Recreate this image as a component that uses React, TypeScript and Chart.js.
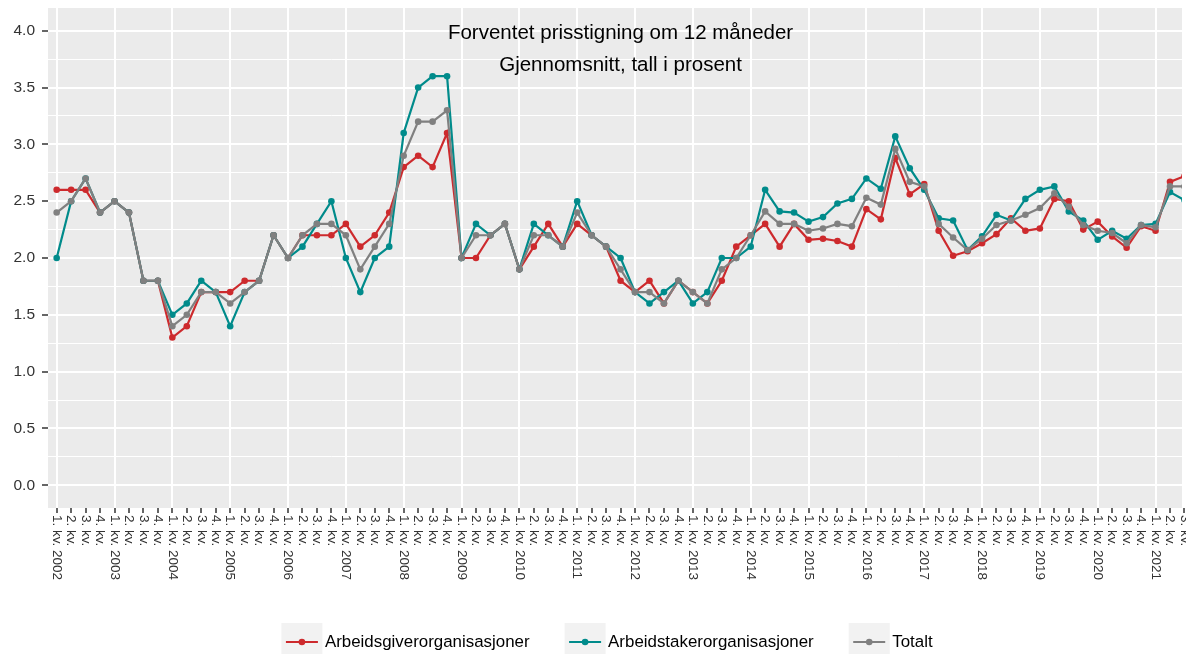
import React, { useEffect, useRef } from 'react';
import { Chart, registerables } from 'chart.js';

Chart.register(...registerables);

const FONT = '"Liberation Sans", Arial, Helvetica, sans-serif';

// ---- categories ----
const years = [2002, 2003, 2004, 2005, 2006, 2007, 2008, 2009, 2010, 2011, 2012, 2013, 2014, 2015, 2016, 2017, 2018, 2019, 2020, 2021];
const quarterNames = ['1. kv.', '2. kv.', '3. kv.', '4. kv.'];
const pointCount = 79; // 1. kv. 2002 .. 3. kv. 2021
const categories = years
  .flatMap((y) => quarterNames.map((q, k) => (k === 0 ? `${q} ${y}` : q)))
  .slice(0, pointCount);

// ---- series values (percent) ----
const arbeidsgiver = [
  2.6, 2.6, 2.6, 2.4,
  2.5, 2.4, 1.8, 1.8,
  1.3, 1.4, 1.7, 1.7,
  1.7, 1.8, 1.8, 2.2,
  2.0, 2.2, 2.2, 2.2,
  2.3, 2.1, 2.2, 2.4,
  2.8, 2.9, 2.8, 3.1,
  2.0, 2.0, 2.2, 2.3,
  1.9, 2.1, 2.3, 2.1,
  2.3, 2.2, 2.1, 1.8,
  1.7, 1.8, 1.6, 1.8,
  1.7, 1.6, 1.8, 2.1,
  2.2, 2.3, 2.1, 2.3,
  2.16, 2.17, 2.15, 2.10,
  2.43, 2.34, 2.88, 2.56,
  2.65, 2.24, 2.02, 2.06,
  2.13, 2.21, 2.35, 2.24,
  2.26, 2.52, 2.50, 2.25,
  2.32, 2.19, 2.09, 2.28,
  2.24, 2.67, 2.72,
];

const arbeidstaker = [
  2.0, 2.5, 2.7, 2.4,
  2.5, 2.4, 1.8, 1.8,
  1.5, 1.6, 1.8, 1.7,
  1.4, 1.7, 1.8, 2.2,
  2.0, 2.1, 2.3, 2.5,
  2.0, 1.7, 2.0, 2.1,
  3.1, 3.5, 3.6, 3.6,
  2.0, 2.3, 2.2, 2.3,
  1.9, 2.3, 2.2, 2.1,
  2.5, 2.2, 2.1, 2.0,
  1.7, 1.6, 1.7, 1.8,
  1.6, 1.7, 2.0, 2.0,
  2.1, 2.6, 2.41, 2.40,
  2.32, 2.36, 2.48, 2.52,
  2.70, 2.61, 3.07, 2.79,
  2.60, 2.35, 2.33, 2.07,
  2.19, 2.38, 2.33, 2.52,
  2.60, 2.63, 2.41, 2.33,
  2.16, 2.24, 2.17, 2.29,
  2.30, 2.58, 2.51,
];

const totalt = [
  2.4, 2.5, 2.7, 2.4,
  2.5, 2.4, 1.8, 1.8,
  1.4, 1.5, 1.7, 1.7,
  1.6, 1.7, 1.8, 2.2,
  2.0, 2.2, 2.3, 2.3,
  2.2, 1.9, 2.1, 2.3,
  2.9, 3.2, 3.2, 3.3,
  2.0, 2.2, 2.2, 2.3,
  1.9, 2.2, 2.2, 2.1,
  2.4, 2.2, 2.1, 1.9,
  1.7, 1.7, 1.6, 1.8,
  1.7, 1.6, 1.9, 2.0,
  2.2, 2.41, 2.30, 2.30,
  2.24, 2.26, 2.30, 2.28,
  2.53, 2.47, 2.96, 2.67,
  2.63, 2.30, 2.18, 2.07,
  2.17, 2.29, 2.33, 2.38,
  2.44, 2.57, 2.45, 2.29,
  2.24, 2.22, 2.13, 2.29,
  2.27, 2.63, 2.63,
];

const seriesNames = ['Arbeidsgiverorganisasjoner', 'Arbeidstakerorganisasjoner', 'Totalt'];
const seriesValues = [arbeidsgiver, arbeidstaker, totalt];
const seriesColors = ['#CD2A2D', '#008B8B', '#808080'];
const seriesOrder = [2, 1, 0]; // Totalt drawn on top

const yTickValues = [0, 0.25, 0.5, 0.75, 1, 1.25, 1.5, 1.75, 2, 2.25, 2.5, 2.75, 3, 3.25, 3.5, 3.75, 4];
const titleLines = ['Forventet prisstigning om 12 måneder', 'Gjennomsnitt, tall i prosent'];

const W = 1186;
const H = 654;

const isMajorY = (v: number) => Math.abs(v * 2 - Math.round(v * 2)) < 1e-6;

const panelPlugin = {
  id: 'ggPanel',
  beforeDraw(chart: any) {
    const { ctx, chartArea: a } = chart;
    ctx.save();
    ctx.fillStyle = '#FFFFFF';
    ctx.fillRect(0, 0, chart.width, chart.height);
    ctx.fillStyle = '#EBEBEB';
    ctx.fillRect(a.left, a.top, a.right - a.left, a.bottom - a.top);
    ctx.restore();
  },
};

const textPlugin = {
  id: 'ggText',
  afterDraw(chart: any) {
    const { ctx, chartArea: a } = chart;
    const xs = chart.scales.x;
    ctx.save();
    // x tick labels, rotated to read top-to-bottom
    ctx.font = `13.5px ${FONT}`;
    ctx.fillStyle = '#333333';
    ctx.textAlign = 'left';
    ctx.textBaseline = 'middle';
    categories.forEach((lab, i) => {
      const x = xs.getPixelForValue(i);
      ctx.save();
      ctx.translate(x, a.bottom + 7);
      ctx.rotate(Math.PI / 2);
      ctx.fillText(lab, 0, 0);
      ctx.restore();
    });

    // title inside panel, centred over the categories
    const cx = xs.getPixelForValue((categories.length - 1) / 2);
    ctx.font = `20.5px ${FONT}`;
    ctx.fillStyle = '#000000';
    ctx.textAlign = 'center';
    ctx.textBaseline = 'alphabetic';
    ctx.fillText(titleLines[0], cx, a.top + 31);
    ctx.fillText(titleLines[1], cx, a.top + 63);

    // legend
    ctx.font = `16.9px ${FONT}`;
    const keyW = 41;
    const keyH = 41;
    const gapText = 2.5;
    const gapItem = 35;
    const widths = seriesNames.map((n) => ctx.measureText(n).width);
    const total = widths.reduce((s, w) => s + keyW + gapText + w, 0) + gapItem * (seriesNames.length - 1);
    let x = 607 - total / 2;
    const boxTop = 623;
    const cy = 642;
    seriesNames.forEach((name, i) => {
      ctx.fillStyle = '#F2F2F2';
      ctx.fillRect(x, boxTop, keyW, keyH);
      ctx.strokeStyle = seriesColors[i];
      ctx.lineWidth = 2.2;
      ctx.beginPath();
      ctx.moveTo(x + 4.5, cy);
      ctx.lineTo(x + keyW - 4.5, cy);
      ctx.stroke();
      ctx.fillStyle = seriesColors[i];
      ctx.beginPath();
      ctx.arc(x + keyW / 2, cy, 3.3, 0, Math.PI * 2);
      ctx.fill();
      ctx.fillStyle = '#000000';
      ctx.textAlign = 'left';
      ctx.textBaseline = 'middle';
      ctx.fillText(name, x + keyW + gapText, cy);
      x += keyW + gapText + widths[i] + gapItem;
    });
    ctx.restore();
  },
};

export default function App() {
  const canvasRef = useRef<HTMLCanvasElement | null>(null);

  useEffect(() => {
    const canvas = canvasRef.current;
    if (!canvas) return;

    const datasets = seriesNames.map((name, s) => ({
      label: name,
      data: seriesValues[s].map((v, i) => ({ x: i, y: v })),
      borderColor: seriesColors[s],
      backgroundColor: seriesColors[s],
      pointBackgroundColor: seriesColors[s],
      pointBorderWidth: 0,
      pointRadius: 3.3,
      borderWidth: 2.2,
      tension: 0,
      fill: false,
      order: seriesOrder[s],
    }));

    const chart = new Chart(canvas, {
      type: 'line',
      data: { datasets },
      options: {
        animation: false,
        responsive: false,
        devicePixelRatio: 1,
        layout: { padding: { top: 8, left: 0, right: 0, bottom: 0 } },
        plugins: {
          legend: { display: false },
          tooltip: { enabled: false },
          title: { display: false },
        },
        scales: {
          x: {
            type: 'linear',
            min: -0.6,
            max: 77.83,
            border: { display: false },
            ticks: { display: false, autoSkip: false },
            afterBuildTicks: (scale: any) => {
              scale.ticks = categories.map((_, i) => ({ value: i }));
            },
            afterFit: (scale: any) => {
              scale.height = 146;
            },
            grid: {
              color: (ctx: any) => (ctx.tick && ctx.tick.value % 4 === 0 ? '#FFFFFF' : 'rgba(0,0,0,0)'),
              lineWidth: 2,
              drawTicks: true,
              tickLength: 5,
              tickColor: '#333333',
              tickWidth: 1.5,
            },
          },
          y: {
            type: 'linear',
            min: -0.2,
            max: 4.2,
            border: { display: false },
            afterBuildTicks: (scale: any) => {
              scale.ticks = yTickValues.map((v) => ({ value: v }));
            },
            afterFit: (scale: any) => {
              scale.width = 48;
              scale.paddingTop = 0;
              scale.paddingBottom = 0;
            },
            ticks: {
              autoSkip: false,
              padding: 7,
              color: '#333333',
              font: { family: FONT, size: 15.5 },
              callback: (v: any) => (isMajorY(Number(v)) ? Number(v).toFixed(1) : ''),
            },
            grid: {
              color: '#FFFFFF',
              lineWidth: (ctx: any) => (ctx.tick && isMajorY(ctx.tick.value) ? 2 : 1),
              drawTicks: true,
              tickLength: 6,
              tickColor: (ctx: any) => (ctx.tick && isMajorY(ctx.tick.value) ? '#333333' : 'rgba(0,0,0,0)'),
              tickWidth: 1.5,
            },
          },
        },
      },
      plugins: [panelPlugin, textPlugin],
    });

    return () => {
      chart.destroy();
    };
  }, []);

  return (
    <div style={{ position: 'fixed', left: 0, top: 0, width: W, height: H, background: '#FFFFFF' }}>
      <canvas ref={canvasRef} width={W} height={H} style={{ display: 'block', width: W, height: H }} />
    </div>
  );
}
